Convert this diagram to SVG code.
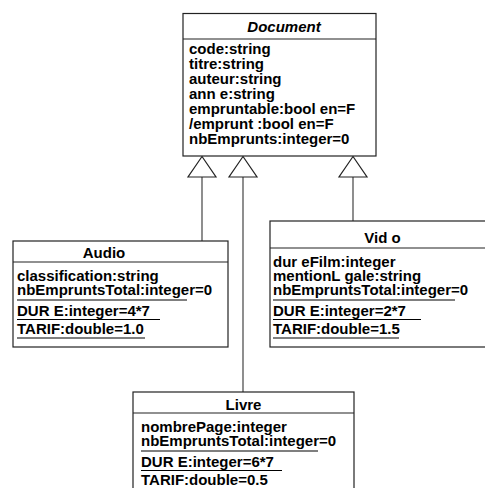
<svg xmlns="http://www.w3.org/2000/svg" width="485" height="488" viewBox="0 0 485 488">
<style>
.box{fill:#fff;stroke:#222;stroke-width:1.2}
.div{stroke:#222;stroke-width:1.2}
.t{font-family:"Liberation Sans",Arial,Helvetica,sans-serif;font-weight:bold;font-size:15px;fill:#000}
.title{text-anchor:middle}
.it{font-style:italic}
.ul{stroke:#000;stroke-width:1.2}
.conn{stroke:#444;stroke-width:1.2;fill:none}
.tri{fill:#fff;stroke:#222;stroke-width:1.2}
</style>
<rect width="485" height="488" fill="#fff"/>
<g id="connectors">
<line class="conn" x1="202" y1="177" x2="202" y2="241"/>
<line class="conn" x1="243" y1="177" x2="243" y2="392"/>
<line class="conn" x1="353" y1="177" x2="353" y2="221"/>
<polygon class="tri" points="202,156.5 188,177 216,177"/>
<polygon class="tri" points="243,156.5 229,177 257,177"/>
<polygon class="tri" points="353,156.5 339,177 367,177"/>
</g>
<g id="Document">
<rect class="box" x="183" y="13.5" width="193" height="142.5"/>
<line class="div" x1="183" y1="39" x2="376" y2="39"/>
<text class="t title it" x="284" y="32">Document</text>
<text class="t" x="189" y="54">code:string</text>
<text class="t" x="189" y="69">titre:string</text>
<text class="t" x="189" y="84">auteur:string</text>
<text class="t" x="189" y="99">ann e:string</text>
<text class="t" x="189" y="114">empruntable:bool en=F</text>
<text class="t" x="189" y="129">/emprunt :bool en=F</text>
<text class="t" x="189" y="144">nbEmprunts:integer=0</text>
</g>
<g id="Audio">
<rect class="box" x="13" y="241" width="215" height="106"/>
<line class="div" x1="13" y1="262" x2="228" y2="262"/>
<text class="t title" x="104" y="258">Audio</text>
<text class="t" x="17" y="281">classification:string</text>
<text class="t" x="17" y="295">nbEmpruntsTotal:integer=0</text>
<line class="ul" x1="17" y1="300" x2="187" y2="300"/>
<text class="t" x="17" y="315.5">DUR E:integer=4*7</text>
<line class="ul" x1="17" y1="319.5" x2="160" y2="319.5"/>
<text class="t" x="17" y="334">TARIF:double=1.0</text>
<line class="ul" x1="17" y1="338" x2="145" y2="338"/>
</g>
<g id="Video">
<rect class="box" x="270" y="221" width="230" height="126"/>
<line class="div" x1="270" y1="248" x2="500" y2="248"/>
<text class="t title" x="382.5" y="242.5">Vid o</text>
<text class="t" x="273" y="267">dur eFilm:integer</text>
<text class="t" x="273" y="281">mentionL gale:string</text>
<text class="t" x="273" y="295">nbEmpruntsTotal:integer=0</text>
<line class="ul" x1="273" y1="300" x2="455" y2="300"/>
<text class="t" x="273" y="315.5">DUR E:integer=2*7</text>
<line class="ul" x1="273" y1="319.5" x2="421" y2="319.5"/>
<text class="t" x="273" y="334">TARIF:double=1.5</text>
<line class="ul" x1="273" y1="338" x2="399" y2="338"/>
</g>
<g id="Livre">
<rect class="box" x="133" y="392" width="221" height="110"/>
<line class="div" x1="133" y1="413" x2="354" y2="413"/>
<text class="t title" x="243.5" y="410">Livre</text>
<text class="t" x="141" y="432">nombrePage:integer</text>
<text class="t" x="141" y="446">nbEmpruntsTotal:integer=0</text>
<line class="ul" x1="141" y1="451" x2="318" y2="451"/>
<text class="t" x="141" y="466.5">DUR E:integer=6*7</text>
<line class="ul" x1="141" y1="470.5" x2="282" y2="470.5"/>
<text class="t" x="141" y="485">TARIF:double=0.5</text>
</g>
</svg>
